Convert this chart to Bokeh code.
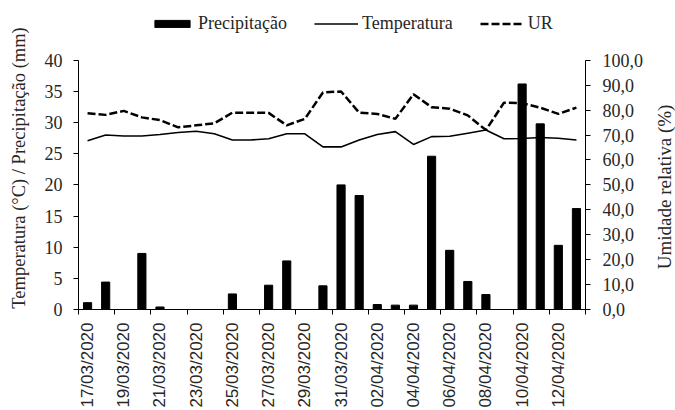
import math
from bokeh.plotting import figure
from bokeh.layouts import row
from bokeh.models import (Range1d, LinearAxis, FixedTicker, Legend, LegendItem,
                          ColumnDataSource)
from bokeh.core.properties import value
from bokeh.embed import file_html
from bokeh.resources import INLINE

# ---------------- data ----------------
dates = ["17/03/2020", "18/03/2020", "19/03/2020", "20/03/2020", "21/03/2020",
         "22/03/2020", "23/03/2020", "24/03/2020", "25/03/2020", "26/03/2020",
         "27/03/2020", "28/03/2020", "29/03/2020", "30/03/2020", "31/03/2020",
         "01/04/2020", "02/04/2020", "03/04/2020", "04/04/2020", "05/04/2020",
         "06/04/2020", "07/04/2020", "08/04/2020", "09/04/2020", "10/04/2020",
         "11/04/2020", "12/04/2020", "13/04/2020"]

precipitacao = [1.1, 4.4, 0.0, 9.0, 0.4, 0.0, 0.0, 0.0, 2.5, 0.0,
                3.9, 7.8, 0.0, 3.8, 20.0, 18.3, 0.8, 0.7, 0.7, 24.6,
                9.5, 4.5, 2.4, 0.0, 36.2, 29.8, 10.3, 16.2]

temperatura = [27.1, 28.0, 27.85, 27.85, 28.1, 28.4, 28.6, 28.2, 27.2, 27.2,
               27.4, 28.2, 28.2, 26.1, 26.1, 27.2, 28.1, 28.55, 26.5, 27.75,
               27.8, 28.3, 28.8, 27.4, 27.45, 27.6, 27.5, 27.2]

umidade = [78.8, 78.1, 79.7, 77.1, 76.0, 73.1, 73.9, 74.7, 79.0, 79.0,
           78.9, 73.9, 76.5, 87.1, 87.5, 79.0, 78.5, 76.5, 86.4, 81.2,
           80.6, 77.9, 72.0, 83.0, 82.8, 81.0, 78.5, 81.0]

left_ticks = [0, 5, 10, 15, 20, 25, 30, 35, 40]
right_ticks = [0, 10, 20, 30, 40, 50, 60, 70, 80, 90, 100]
left_max, right_max = 40, 100
left_title = "Temperatura (°C) / Precipitação (mm)"
right_title = "Umidade relativa (%)"

# ---------------- layout ----------------
H = 410
W_L, W_MAIN, W_R = 36, 614, 25
BORDER_L, BORDER_R, BORDER_B = 42, 65, 100
TOP_PAD = 60                      # space above the 40 / 100 tick (legend area)
frame_h = H - BORDER_B
scale = frame_h / (frame_h - TOP_PAD)

SERIF = "Liberation Serif"
SANS = "Liberation Sans"
TXT = "#262626"

n = len(dates)
xs = list(range(n))
src = ColumnDataSource(dict(x=xs, date=dates, precip=precipitacao,
                            temp=temperatura, ur=umidade))

p = figure(width=W_MAIN, height=H, output_backend="svg", toolbar_location=None,
           title=None,
           x_range=Range1d(-0.5, n - 0.5),
           y_range=Range1d(0, left_max * scale),
           min_border_left=BORDER_L, min_border_right=BORDER_R,
           min_border_top=0, min_border_bottom=BORDER_B)
p.extra_y_ranges = {"ur": Range1d(0, right_max * scale)}
p.xgrid.visible = False
p.ygrid.visible = False
p.outline_line_color = None

bars = p.vbar(x="x", top="precip", width=0.45, bottom=0, source=src,
              fill_color="black", line_color="black")
temp_r = p.line("x", "temp", source=src, line_color="black", line_width=1.6)
ur_r = p.line("x", "ur", source=src, y_range_name="ur", line_color="black",
              line_width=2.5, line_dash="8 3")

# x axis
xa = p.xaxis[0]
xa.ticker = FixedTicker(ticks=xs[::2],
                        minor_ticks=[-0.5 + k for k in range(0, n + 1, 2)])
xa.major_label_overrides = {i: dates[i] for i in xs[::2]}
xa.major_label_orientation = math.pi / 2
xa.major_tick_out = 0
xa.major_tick_in = 0
xa.minor_tick_out = 5
xa.minor_tick_in = 0
xa.major_label_standoff = 8
xa.major_label_text_font = SANS
xa.major_label_text_font_size = "17px"
xa.major_label_text_color = TXT
xa.axis_line_color = "black"
xa.minor_tick_line_color = "black"

# left axis
ya = p.yaxis[0]
ya.ticker = FixedTicker(ticks=left_ticks)
ya.bounds = (0, left_max)
ya.major_tick_out = 5
ya.major_tick_in = 0
ya.major_label_standoff = 11
ya.major_label_text_font = SERIF
ya.major_label_text_font_size = "18px"
ya.major_label_text_color = TXT
ya.axis_line_color = "black"

# right axis
ra = LinearAxis(y_range_name="ur", ticker=FixedTicker(ticks=right_ticks),
                bounds=(0, right_max),
                major_label_overrides={v: f"{v:.1f}".replace(".", ",")
                                       for v in right_ticks})
ra.major_tick_out = 5
ra.major_tick_in = 0
ra.major_label_standoff = 12
ra.major_label_text_font = SERIF
ra.major_label_text_font_size = "18px"
ra.major_label_text_color = TXT
ra.axis_line_color = "black"
p.add_layout(ra, "right")

# legend (inside the frame, in the padding above the 40 tick)
legend = Legend(items=[LegendItem(label="Precipitação", renderers=[bars]),
                       LegendItem(label="Temperatura", renderers=[temp_r]),
                       LegendItem(label="UR", renderers=[ur_r])],
                orientation="horizontal", location=(72, frame_h - 35),
                border_line_color=None, background_fill_alpha=0,
                padding=0, margin=0, spacing=27, label_standoff=4,
                glyph_width=44, glyph_height=9,
                label_text_font=SERIF, label_text_font_size="18px",
                label_text_color=TXT)
p.add_layout(legend)


# ---------------- axis titles (read bottom-to-top) ----------------
# the frames of the row's plots are aligned, so the title panels' frames
# span the same 0..frame_h pixels (measured from the top) as the main plot
def title_panel(width, text, cx, cy, size):
    f = figure(width=width, height=H, output_backend="svg",
               toolbar_location=None, title=None,
               x_range=Range1d(0, width), y_range=Range1d(frame_h, 0),
               x_axis_type=None, y_axis_type=None,
               min_border=0, outline_line_color=None)
    f.text(x=[cx], y=[cy], text=[text], angle=math.pi / 2,
           text_align="center", text_baseline="middle",
           text_font=value(SERIF), text_font_size=size, text_color=TXT)
    return f


pL = title_panel(W_L, left_title, 18.5, 168, "18.5px")
pR = title_panel(W_R, right_title, 14, 187, "19px")

layout = row(pL, p, pR, spacing=0)

open("out.html", "w").write(file_html(layout, INLINE))
